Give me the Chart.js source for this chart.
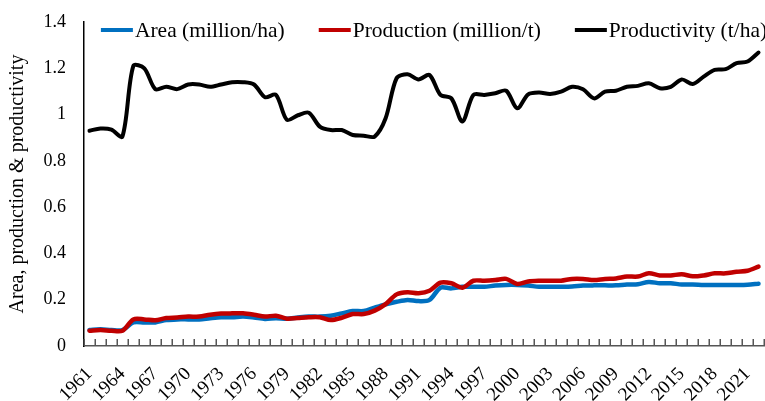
<!DOCTYPE html>
<html lang="en">
<head>
    <meta charset="UTF-8">
    <title>Area, production and productivity</title>
    <script src="https://cdn.jsdelivr.net/npm/chart.js"></script>
    <style>
        body { margin: 0; background: #fff; }
        #wrap { width: 765px; height: 401px; }
    </style>
</head>
<body>
    <div id="wrap">
        <canvas id="trendChart" width="765" height="401"></canvas>
    </div>

    <script>
        // years on the category axis
        var years = [1961, 1962, 1963, 1964, 1965, 1966, 1967, 1968, 1969, 1970,
            1971, 1972, 1973, 1974, 1975, 1976, 1977, 1978, 1979, 1980,
            1981, 1982, 1983, 1984, 1985, 1986, 1987, 1988, 1989, 1990,
            1991, 1992, 1993, 1994, 1995, 1996, 1997, 1998, 1999, 2000,
            2001, 2002, 2003, 2004, 2005, 2006, 2007, 2008, 2009, 2010,
            2011, 2012, 2013, 2014, 2015, 2016, 2017, 2018, 2019, 2020,
            2021, 2022];

        // only every third year is labelled
        var shownYears = [1961, 1964, 1967, 1970, 1973, 1976, 1979, 1982, 1985, 1988,
            1991, 1994, 1997, 2000, 2003, 2006, 2009, 2012, 2015, 2018, 2021];

        var yTicks = [0, 0.2, 0.4, 0.6, 0.8, 1, 1.2, 1.4];

        var area = [0.069, 0.072, 0.069, 0.069,
            0.102, 0.102, 0.102, 0.112, 0.115,
            0.115, 0.115, 0.120, 0.124, 0.124,
            0.127, 0.123, 0.117, 0.120, 0.118,
            0.123, 0.127, 0.127, 0.131, 0.141,
            0.151, 0.151, 0.166, 0.180, 0.191,
            0.199, 0.194, 0.199, 0.252, 0.249,
            0.256, 0.256, 0.256, 0.261, 0.264,
            0.264, 0.261, 0.256, 0.256, 0.256,
            0.257, 0.261, 0.262, 0.262, 0.262,
            0.266, 0.267, 0.277, 0.271, 0.271,
            0.266, 0.266, 0.264, 0.264, 0.264,
            0.264, 0.265, 0.269];

        var production = [0.066, 0.069, 0.066, 0.066,
            0.115, 0.115, 0.111, 0.121, 0.123,
            0.127, 0.127, 0.135, 0.140, 0.141,
            0.141, 0.135, 0.127, 0.131, 0.118,
            0.121, 0.124, 0.124, 0.112, 0.122,
            0.138, 0.138, 0.153, 0.181, 0.223,
            0.232, 0.228, 0.239, 0.274, 0.271,
            0.252, 0.282, 0.282, 0.285, 0.290,
            0.268, 0.279, 0.282, 0.282, 0.282,
            0.290, 0.290, 0.285, 0.290, 0.292,
            0.300, 0.300, 0.314, 0.305, 0.305,
            0.310, 0.301, 0.305, 0.314, 0.314,
            0.321, 0.325, 0.343];

        var productivity = [0.93, 0.94, 0.935, 0.905,
            1.21, 1.20, 1.11, 1.12, 1.11,
            1.13, 1.13, 1.12, 1.13, 1.14,
            1.14, 1.13, 1.075, 1.085, 0.977,
            0.997, 1.008, 0.948, 0.933, 0.933,
            0.912, 0.909, 0.905, 0.984, 1.157,
            1.174, 1.152, 1.171, 1.085, 1.07,
            0.97, 1.085, 1.085, 1.092, 1.103,
            1.027, 1.087, 1.095, 1.089, 1.099,
            1.12, 1.109, 1.07, 1.099, 1.103,
            1.12, 1.124, 1.135, 1.114, 1.12,
            1.152, 1.132, 1.164, 1.193, 1.196,
            1.222, 1.229, 1.268];

        var serif = '"Liberation Serif", "Times New Roman", serif';

        // one-row legend drawn inside the top of the plot, like the Excel original
        var insideLegend = {
            id: 'insideLegend',
            afterDraw: function (chart) {
                var c = chart.ctx;
                var box = chart.chartArea;
                var sample = 32, gap = 2, spacing = 34;
                c.save();
                c.font = '21.5px ' + serif;
                c.textBaseline = 'middle';
                c.textAlign = 'left';
                var sets = chart.data.datasets;
                var total = 0;
                sets.forEach(function (ds, i) {
                    total += sample + gap + c.measureText(ds.label).width;
                    if (i < sets.length - 1) total += spacing;
                });
                var x = box.left + (box.width - total) / 2 + 10;
                var y = box.top + 8;
                sets.forEach(function (ds) {
                    c.strokeStyle = ds.borderColor;
                    c.lineWidth = 4;
                    c.beginPath();
                    c.moveTo(x, y);
                    c.lineTo(x + sample, y);
                    c.stroke();
                    x += sample + gap;
                    c.fillStyle = '#000';
                    c.fillText(ds.label, x, y + 1);
                    x += c.measureText(ds.label).width + spacing;
                });
                c.restore();
            }
        };

        // short tick marks pointing up from the x axis, between the categories
        var innerTicks = {
            id: 'innerTicks',
            afterDraw: function (chart) {
                var sx = chart.scales.x;
                var c = chart.ctx;
                c.save();
                c.strokeStyle = '#555';
                c.lineWidth = 1.5;
                c.beginPath();
                for (var i = 0; i <= years.length; i++) {
                    var px = Math.round(sx.getPixelForValue(i - 0.5)) + 0.25;
                    c.moveTo(px, sx.top);
                    c.lineTo(px, sx.top - 7);
                }
                c.stroke();
                c.restore();
            }
        };

        var ctx = document.getElementById('trendChart').getContext('2d');

        new Chart(ctx, {
            type: 'line',
            data: {
                labels: years,
                datasets: [{
                    label: 'Area (million/ha)',
                    data: area,
                    borderColor: '#0070C0',
                    borderWidth: 4.5,
                    order: 1
                }, {
                    label: 'Production (million/t)',
                    data: production,
                    borderColor: '#C00000',
                    borderWidth: 4.5,
                    order: 0
                }, {
                    label: 'Productivity (t/ha)',
                    data: productivity,
                    borderColor: '#000000',
                    borderWidth: 4,
                    order: 2
                }]
            },
            plugins: [innerTicks, insideLegend],
            options: {
                responsive: false,
                animation: false,
                layout: {
                    padding: { top: 22, right: 1, left: 0, bottom: 0 }
                },
                elements: {
                    point: { radius: 0 },
                    line: { tension: 0.3, fill: false, borderCapStyle: 'round' }
                },
                plugins: {
                    tooltip: { enabled: false },
                    legend: { display: false }
                },
                scales: {
                    x: {
                        offset: true,
                        afterFit: function (scale) {
                            scale.height = 55;
                            scale.paddingLeft = 0;
                            scale.paddingRight = 0;
                            scale.paddingTop = 0;
                            scale.paddingBottom = 0;
                        },
                        border: { color: '#555', width: 1.5 },
                        grid: { display: false, drawTicks: false },
                        ticks: {
                            autoSkip: false,
                            maxRotation: 45,
                            minRotation: 45,
                            padding: 17,
                            color: '#000',
                            font: { family: serif, size: 19 },
                            callback: function (value, index) {
                                var y = years[index];
                                return shownYears.indexOf(y) >= 0 ? String(y) : '';
                            }
                        }
                    },
                    y: {
                        min: 0,
                        max: 1.4,
                        afterFit: function (scale) {
                            scale.width = 84;
                            scale.paddingTop = 0;
                            scale.paddingBottom = 0;
                        },
                        afterBuildTicks: function (scale) {
                            scale.ticks = yTicks.map(function (v) { return { value: v }; });
                        },
                        border: { color: '#000', width: 1.5 },
                        grid: { display: false, drawTicks: false },
                        ticks: {
                            padding: 18,
                            color: '#000',
                            font: { family: serif, size: 18 },
                            callback: function (value) { return String(+value.toFixed(1)); }
                        },
                        title: {
                            display: true,
                            text: 'Area, production & productivity',
                            color: '#000',
                            padding: { top: 6, bottom: 0 },
                            font: { family: serif, size: 20 }
                        }
                    }
                }
            }
        });
    </script>
</body>
</html>
